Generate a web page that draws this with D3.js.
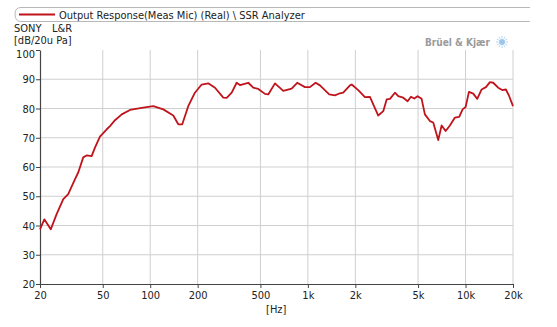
<!DOCTYPE html>
<html>
<head>
<meta charset="utf-8">
<script src="https://cdn.jsdelivr.net/npm/d3@7"></script>
<style>
  body { margin: 0; background: #fff; }
  svg text { font-family: Tahoma, "DejaVu Sans Condensed", "DejaVu Sans", sans-serif; fill: #222; }
</style>
</head>
<body>
<div id="chart"></div>
<script>
// Frequency (Hz) and level (dB re 20uPa)
const freqs = [20, 21.3, 23.4, 25.5, 28.1, 30.2, 33.3, 35, 37.6, 39.7, 42.5, 44.7, 48, 53, 55.6, 59.8,
  66, 74.4, 90.4, 104.6, 121.1, 140.1, 150.7, 159.7, 174.3, 192.1, 212, 233.5, 257.6, 290.8, 305.6,
  328.7, 353.4, 370.8, 418.8, 450.5, 484.6, 534.5, 560.8, 618.5, 698, 789, 856, 958, 1030, 1120,
  1193, 1366, 1485, 1597, 1676, 1849, 1896, 2087, 2301, 2475, 2795, 3007, 3160, 3316, 3566, 3743,
  4026, 4292, 4506, 4728, 4966, 5264, 5524, 5943, 6238, 6711, 7052, 7476, 7960, 8562, 9116, 9579,
  10012, 10508, 11190, 11863, 12650, 13470, 14280, 14980, 16110, 17080, 18030, 18920, 20000];
const levels = [38.7, 42.1, 38.7, 43.9, 49, 50.7, 55.8, 58.2, 63.3, 64, 63.7, 66.7, 70.4, 72.9, 74, 76,
  78, 79.5, 80.3, 80.8, 79.7, 77.6, 74.6, 74.6, 80.8, 85.4, 88.2, 88.6, 87.1, 83.7, 83.6,
  85.4, 88.8, 88, 88.8, 87.1, 86.7, 85, 84.8, 88.6, 86, 86.8, 88.8, 87.3, 87.3, 88.8,
  87.9, 84.8, 84.5, 85.2, 85.4, 87.9, 88.2, 86.3, 83.9, 84, 77.6, 79.1, 83.1, 83.3, 85.4, 84.2,
  83.7, 82.5, 84, 83.4, 84.2, 83.3, 78, 75.7, 75.2, 69.2, 74.2, 72.3, 74.2, 76.9, 77.1, 79.7,
  80.5, 85.7, 85.1, 83.3, 86.5, 87.3, 89, 88.8, 87.1, 86.3, 86.5, 84.2, 80.8];
const xTicks = [20, 50, 100, 200, 500, 1000, 2000, 5000, 10000, 20000];
const xTickLabels = ['20', '50', '100', '200', '500', '1k', '2k', '5k', '10k', '20k'];
const yTicks = [20, 30, 40, 50, 60, 70, 80, 90, 100];
const seriesName = 'Output Response(Meas Mic) (Real) \\ SSR Analyzer';

const data = freqs.map((f, i) => ({f: f, v: levels[i]}));

const W = 557, H = 327;
const margin = {top: 50, right: 44, bottom: 43, left: 40};
const width = W - margin.left - margin.right,
  height = H - margin.top - margin.bottom;

const root = d3.select('#chart').append('svg')
  .attr('width', W)
  .attr('height', H);

// legend box along the top
const leg = root.append('g');
leg.append('path')
  .attr('d', 'M530,7.5 L21,7.5 Q15,7.5 15,14 Q15,21.5 21,21.5 L530,21.5')
  .attr('fill', 'none')
  .attr('stroke', '#b8b8b8');
leg.append('line')
  .attr('x1', 19).attr('x2', 55).attr('y1', 14.5).attr('y2', 14.5)
  .attr('stroke', '#c0141c').attr('stroke-width', 2);
leg.append('text')
  .attr('x', 59).attr('y', 18.5)
  .style('font-size', '11px')
  .text(seriesName);

root.append('text').attr('x', 14).attr('y', 32).style('font-size', '11px').text('SONY');
root.append('text').attr('x', 52).attr('y', 32).style('font-size', '11px').text('L&R');
root.append('text').attr('x', 14).attr('y', 43.5).style('font-size', '11px').text('[dB/20u Pa]');

// Brüel & Kjær mark
root.append('text')
  .attr('x', 425).attr('y', 45.5)
  .style('font-size', '10px').style('font-weight', 'bold')
  .style('fill', '#9a9a9a')
  .text('Brüel & Kjær');
const logo = root.append('g').attr('transform', 'translate(502,42)');
logo.append('circle').attr('r', 3).attr('fill', '#9cc6ea');
d3.range(12).forEach(k => {
  const a = k * Math.PI / 6;
  logo.append('line')
    .attr('x1', Math.cos(a) * 3.8).attr('y1', Math.sin(a) * 3.8)
    .attr('x2', Math.cos(a) * 6).attr('y2', Math.sin(a) * 6)
    .attr('stroke', '#b0d4f2').attr('stroke-width', 1);
});

const svg = root.append('g')
  .attr('transform', `translate(${margin.left}, ${margin.top})`);

const xScale = d3.scaleLog()
  .domain([20, 20000])
  .range([0, width]);

const yScale = d3.scaleLinear()
  .domain([20, 100])
  .range([height, 0]);

// grid
svg.append('g')
  .selectAll('line')
  .data(xTicks.slice(1))
  .enter()
  .append('line')
  .attr('x1', d => xScale(d)).attr('x2', d => xScale(d))
  .attr('y1', 0).attr('y2', height)
  .attr('stroke', '#cfcfcf');

svg.append('g')
  .selectAll('line')
  .data(yTicks.slice(1, -1))
  .enter()
  .append('line')
  .attr('x1', 0).attr('x2', width)
  .attr('y1', d => yScale(d)).attr('y2', d => yScale(d))
  .attr('stroke', '#cfcfcf');

// axes
const xAxis = d3.axisBottom(xScale)
  .tickValues(xTicks)
  .tickFormat((d, i) => xTickLabels[i])
  .tickSize(4)
  .tickSizeOuter(0);

const yAxis = d3.axisLeft(yScale)
  .tickValues(yTicks)
  .tickSize(4)
  .tickSizeOuter(0);

const xAxisGroup = svg.append('g')
  .attr('transform', `translate(0, ${height})`)
  .call(xAxis);

const yAxisGroup = svg.append('g')
  .call(yAxis);

[xAxisGroup, yAxisGroup].forEach(g => {
  g.select('.domain').attr('stroke', '#444').attr('stroke-width', 1.2);
  g.selectAll('.tick line').attr('stroke', '#444');
  g.selectAll('.tick text')
    .style('font-size', '11px')
    .style('font-family', 'Tahoma, "DejaVu Sans Condensed", "DejaVu Sans", sans-serif')
    .attr('fill', '#222');
});
// top label sits a little lower so it clears the unit text
yAxisGroup.selectAll('.tick text')
  .attr('x', -5)
  .attr('dy', d => d === 100 ? '0.7em' : '0.32em');

svg.append('text')
  .attr('x', xScale(630)).attr('y', height + 29)
  .attr('text-anchor', 'middle')
  .style('font-size', '11px')
  .text('[Hz]');

// response curve
const line = d3.line()
  .x(d => xScale(d.f))
  .y(d => yScale(d.v));

svg.append('path')
  .datum(data)
  .attr('fill', 'none')
  .attr('stroke', '#c0141c')
  .attr('stroke-width', 1.8)
  .attr('stroke-linejoin', 'round')
  .attr('d', line);
</script>
</body>
</html>
